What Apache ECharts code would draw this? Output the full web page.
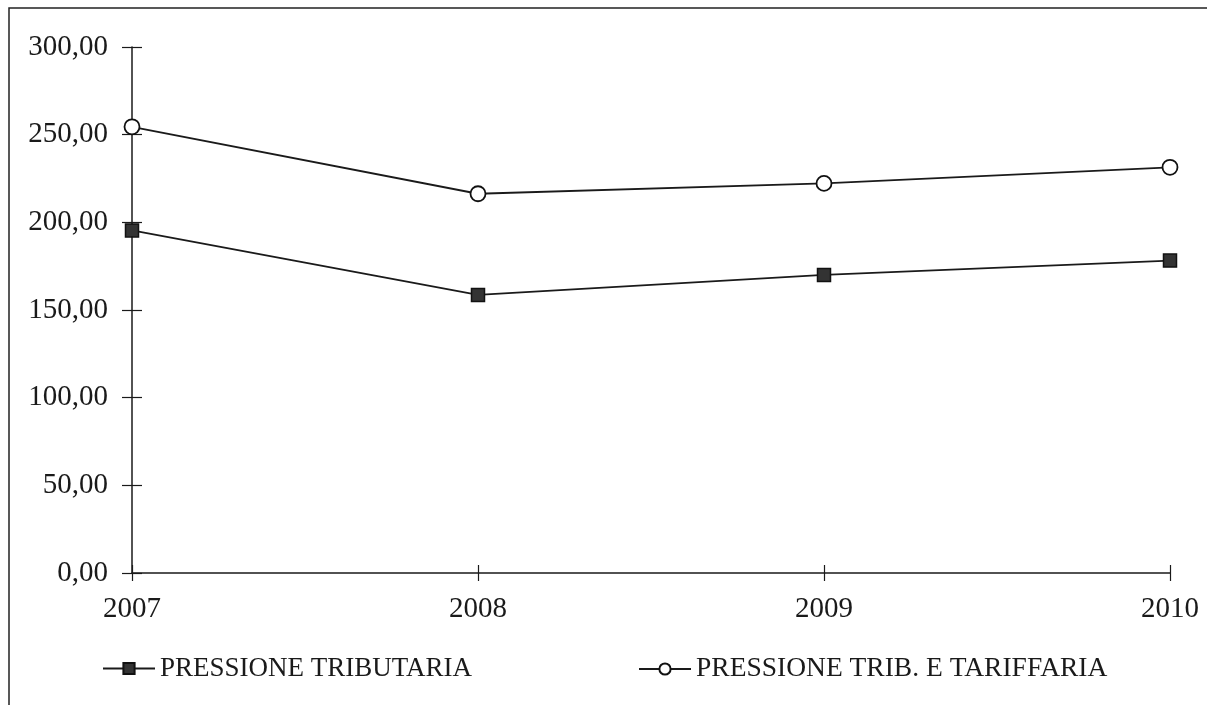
<!DOCTYPE html>
<html>
<head>
<meta charset="utf-8">
<script src="https://cdn.jsdelivr.net/npm/echarts@6/dist/echarts.min.js"></script>
<style>
    html, body { margin: 0; padding: 0; background: #fff; }
    #chart { width: 1207px; height: 705px; }
</style>
</head>
<body>
<div id="chart"></div>
<script>
// anni e valori
var years = ['2007', '2008', '2009', '2010'];
var tributaria = [195.4, 158.6, 170.0, 178.2];
var tribTariffaria = [254.5, 216.3, 222.2, 231.4];
var seriesNames = ['PRESSIONE TRIBUTARIA', 'PRESSIONE TRIB. E TARIFFARIA'];

var font = 'Liberation Serif';
var ink = '#1a1a1a';

var myChart = echarts.init(document.getElementById('chart'));

function fmt(v) {
    return v.toFixed(2).replace('.', ',');
}

var option = {
    backgroundColor: '#fff',
    animation: false,
    textStyle: { fontFamily: font, color: ink },
    graphic: [{
        type: 'rect',
        shape: { x: 9, y: 8, width: 1210, height: 710 },
        style: { fill: 'none', stroke: '#222', lineWidth: 1.5 }
    }],
    grid: { left: 132, right: 37, top: 47, bottom: 132 },
    legend: [{
        data: [seriesNames[0]],
        left: 97, top: 650,
        itemWidth: 52, itemHeight: 14, itemGap: 8,
        textStyle: { fontFamily: font, fontSize: 27, color: ink }
    }, {
        data: [seriesNames[1]],
        left: 633, top: 650,
        itemWidth: 52, itemHeight: 14, itemGap: 6,
        textStyle: { fontFamily: font, fontSize: 27.5, color: ink }
    }],
    xAxis: [{
        type: 'category',
        data: years,
        boundaryGap: false,
        axisLine: { lineStyle: { color: ink, width: 1.5 } },
        axisTick: { length: 8, lineStyle: { color: ink, width: 1.2 } },
        axisLabel: { fontFamily: font, fontSize: 29, color: ink, margin: 22 },
        splitLine: { show: false }
    }, {
        type: 'category',
        data: years,
        boundaryGap: false,
        position: 'bottom',
        axisLine: { show: false },
        axisTick: { inside: true, length: 8, lineStyle: { color: ink, width: 1.2 } },
        axisLabel: { show: false },
        splitLine: { show: false }
    }],
    yAxis: [{
        type: 'value',
        min: 0, max: 300, interval: 50,
        axisLine: { show: true, lineStyle: { color: ink, width: 1.5 } },
        axisTick: { show: true, length: 10, lineStyle: { color: ink, width: 1.2 } },
        axisLabel: { fontFamily: font, fontSize: 29, color: ink, margin: 24, formatter: fmt },
        splitLine: { show: false }
    }, {
        type: 'value',
        min: 0, max: 300, interval: 50,
        position: 'left',
        axisLine: { show: false },
        axisTick: { show: true, inside: true, length: 10, lineStyle: { color: ink, width: 1.2 } },
        axisLabel: { show: false },
        splitLine: { show: false }
    }],
    series: [{
        name: seriesNames[0],
        type: 'line',
        data: tributaria,
        symbol: 'rect',
        symbolSize: 13,
        lineStyle: { color: ink, width: 1.8 },
        itemStyle: { color: '#333', borderColor: '#111', borderWidth: 1.5 }
    }, {
        name: seriesNames[1],
        type: 'line',
        data: tribTariffaria,
        symbol: 'circle',
        symbolSize: 15,
        lineStyle: { color: ink, width: 1.8 },
        itemStyle: { color: '#fff', borderColor: '#111', borderWidth: 1.8 }
    }]
};

myChart.setOption(option);
</script>
</body>
</html>
